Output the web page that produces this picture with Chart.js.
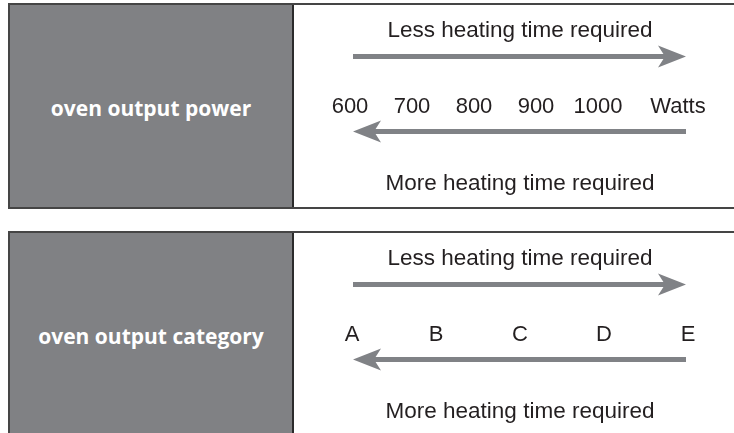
<!DOCTYPE html>
<html>
<head>
<meta charset="utf-8">
<script src="https://cdn.jsdelivr.net/npm/chart.js@4.4.1/dist/chart.umd.min.js"></script>
<style>
  html, body { margin: 0; padding: 0; background: #ffffff; }
  #wrap { position: relative; width: 734px; height: 433px; overflow: hidden; background: #ffffff; }
  .panel { position: absolute; left: 8px; width: 800px; border: 2px solid #454545; border-right: none; box-sizing: border-box; }
  .gray { position: absolute; left: 0; top: 0; bottom: 0; width: 282px; background: #808184; border-right: 2px solid #2b2b2b; }
  .label { position: absolute; left: 0; width: 282px; top: 89px; text-align: center; color: #ffffff;
           font: bold 21px "Open Sans", "DejaVu Sans", sans-serif; line-height: 28px; white-space: nowrap; }
  canvas { position: absolute; left: 294px; }
</style>
</head>
<body>
<div id="wrap">
  <div class="panel" style="top:3px;height:206px;"><div class="gray"><div class="label" id="t1"></div></div></div>
  <div class="panel" style="top:231px;height:240px;"><div class="gray"><div class="label" id="t2"></div></div></div>
  <canvas id="c1" width="440" height="202" style="top:5px;"></canvas>
  <canvas id="c2" width="440" height="200" style="top:233px;"></canvas>
</div>
<script>
// ---- data ----
const rowTitles = ['oven output power', 'oven output category'];
const powerLevels = [600, 700, 800, 900, 1000];
const powerUnit = 'Watts';
const ovenCategories = ['A', 'B', 'C', 'D', 'E'];
const upperCaption = 'Less heating time required';
const lowerCaption = 'More heating time required';

// ---- styles ----
const TEXT = '#231f20';
const ARROW = '#808286';
const FONT = '"Liberation Sans", Arial, Helvetica, sans-serif';

document.getElementById('t1').textContent = rowTitles[0];
document.getElementById('t2').textContent = rowTitles[1];

Chart.defaults.font.family = FONT;
Chart.defaults.color = TEXT;

function drawArrow(ctx, tailX, tipX, y) {
  const dir = Math.sign(tipX - tailX);
  const headLen = 28, halfW = 11, notch = 7, shaft = 5;
  ctx.fillStyle = ARROW;
  const shaftEnd = tipX - dir * (headLen - notch - 1);
  ctx.fillRect(Math.min(tailX, shaftEnd), y - shaft / 2, Math.abs(shaftEnd - tailX), shaft);
  ctx.beginPath();
  ctx.moveTo(tipX, y);
  ctx.lineTo(tipX - dir * headLen, y - halfW);
  ctx.lineTo(tipX - dir * (headLen - notch), y);
  ctx.lineTo(tipX - dir * headLen, y + halfW);
  ctx.closePath();
  ctx.fill();
}

const panelDecor = {
  id: 'panelDecor',
  afterDraw(chart, args, opts) {
    const ctx = chart.ctx;
    ctx.save();
    ctx.fillStyle = TEXT;
    ctx.font = '22.5px ' + FONT;
    ctx.textAlign = 'center';
    ctx.textBaseline = 'alphabetic';
    ctx.fillText(upperCaption, 226, 32);
    ctx.fillText(lowerCaption, 226, 184.5);
    drawArrow(ctx, 59, 392, 51.5);
    drawArrow(ctx, 392, 59, 126.5);
    if (opts.unit) {
      const xs = chart.scales.x;
      ctx.font = '22px ' + FONT;
      ctx.textBaseline = 'middle';
      ctx.fillStyle = TEXT;
      ctx.fillText(opts.unit, xs.getPixelForValue(xs.max) + 80, xs.top + 11);
    }
    ctx.restore();
  }
};

const tickOpts = { padding: 0, color: TEXT, font: { size: 22, lineHeight: 1 }, maxRotation: 0, autoSkip: false };

// Panel 1: oven output power
new Chart(document.getElementById('c1'), {
  type: 'scatter',
  data: { datasets: [{ data: powerLevels.map(v => ({ x: v, y: 0 })), pointRadius: 0, showLine: false }] },
  options: {
    responsive: false, animation: false, events: [],
    layout: { padding: { left: 56, right: 136, top: 0, bottom: 89 } },
    plugins: { legend: { display: false }, tooltip: { enabled: false }, panelDecor: { unit: powerUnit } },
    scales: {
      x: {
        type: 'linear', position: 'bottom',
        min: powerLevels[0], max: powerLevels[powerLevels.length - 1],
        afterBuildTicks: s => { s.ticks = powerLevels.map(v => ({ value: v })); },
        grid: { display: false, drawTicks: false }, border: { display: false },
        ticks: Object.assign({}, tickOpts, { callback: v => String(v) })
      },
      y: { display: false, min: -1, max: 1 }
    }
  },
  plugins: [panelDecor]
});

// Panel 2: oven output category
new Chart(document.getElementById('c2'), {
  type: 'line',
  data: { labels: ovenCategories, datasets: [{ data: ovenCategories.map(() => null), pointRadius: 0 }] },
  options: {
    responsive: false, animation: false, events: [],
    layout: { padding: { left: 58, right: 46, top: 0, bottom: 87 } },
    plugins: { legend: { display: false }, tooltip: { enabled: false }, panelDecor: {} },
    scales: {
      x: {
        type: 'category', offset: false, position: 'bottom',
        grid: { display: false, drawTicks: false }, border: { display: false },
        ticks: tickOpts
      },
      y: { display: false, min: -1, max: 1 }
    }
  },
  plugins: [panelDecor]
});
</script>
</body>
</html>
